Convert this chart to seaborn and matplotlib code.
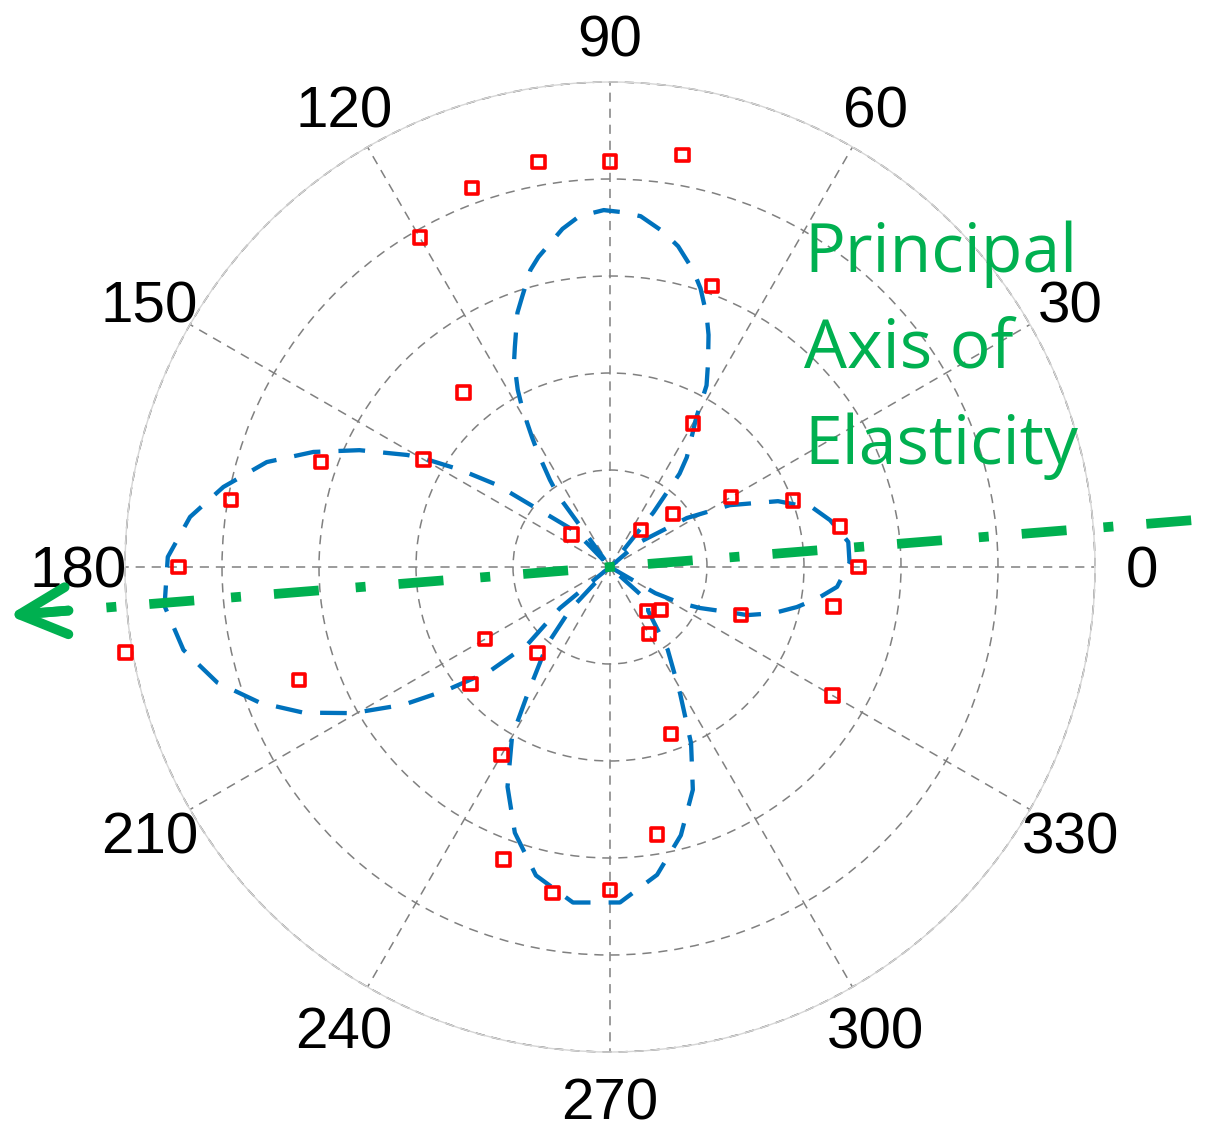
import numpy as np
import pandas as pd
import matplotlib
matplotlib.use("Agg")
import matplotlib.pyplot as plt
import seaborn as sns

# ---------------- data ----------------
# measured points (red squares): angle in degrees, radius in ring units
point_angle_deg = [0, 10, 20, 30, 40, 50, 60, 70, 80, 90, 100, 110,
                   120, 130, 140, 150, 160, 170, 180, 190, 200, 210, 220, 230,
                   240, 250, 260, 270, 280, 290, 300, 310, 320, 330, 340, 350]
point_radius = [2.56, 2.41, 2.01, 1.44, 0.85, 0.50, 1.71, 3.08, 4.31, 4.18, 4.24, 4.16,
                3.92, 2.35, 0.52, 2.22, 3.17, 3.97, 4.45, 5.07, 3.41, 1.49, 1.88, 1.16,
                2.24, 3.21, 3.41, 3.33, 2.80, 1.83, 0.80, 0.59, 0.69, 2.65, 1.44, 2.34]

# fitted curve (blue dashed), traced along the path
curve_angle_deg = [323, 330, 332.8, 335.5, 339, 340.7, 344.2, 347.9, 351.5, 355, 1, 6,
                   12, 16.2, 21.4, 27.3, 32.5, 40.6, 45,
                   51.5, 53.3, 55, 60, 62, 64.3, 67, 69, 72, 74.4, 78, 81, 85, 88, 91,
                   95, 98, 103, 105, 108, 110, 113.4, 115, 117.5, 119, 121, 122.3,
                   124.6, 126, 130,
                   134, 135, 140, 141.2, 144, 147, 149.8, 151.1, 155, 158.8, 163, 168.3,
                   173.2, 178.7, 185, 191, 196.4, 201.2, 205.4, 209.6, 213.7, 217,
                   220.9, 223.2, 219.4, 219, 222,
                   227, 231, 237, 240, 245, 250.3, 256.5, 263.7, 271.7, 278.7, 284.8,
                   290.4, 294.7, 299, 304.9, 311, 318, 323]
curve_radius = [0.0, 0.54, 0.81, 1.02, 1.29, 1.50, 1.75, 1.97, 2.17, 2.35, 2.47, 2.47,
                2.32, 2.18, 1.86, 1.39, 0.94, 0.38, 0.0,
                0.72, 1.20, 1.38, 1.78, 2.12, 2.33, 2.60, 2.78, 3.02, 3.18, 3.38, 3.50,
                3.63, 3.66, 3.68, 3.63, 3.52, 3.28, 3.17, 2.93, 2.79, 2.47, 2.34, 2.06,
                1.86, 1.56, 1.39, 1.09, 0.90, 0.0,
                0.34, 0.54, 0.83, 0.94, 1.44, 1.84, 2.23, 2.39, 2.85, 3.28, 3.70, 4.07,
                4.36, 4.56, 4.61, 4.48, 4.22, 3.87, 3.50, 3.05, 2.56, 2.11,
                1.64, 1.17, 0.67, 0.21, 0.0,
                0.61, 1.03, 1.56, 2.02, 2.50, 2.91, 3.27, 3.48, 3.46, 3.21, 2.86,
                2.45, 2.00, 1.49, 1.04, 0.60, 0.53, 0.0]

# principal axis of elasticity (green dash-dot arrow): left (arrow) end, right end
axis_angle_deg = [184.6, 4.6]
axis_radius = [6.22, 6.26]

tick_angles_deg = [0, 30, 60, 90, 120, 150, 180, 210, 240, 270, 300, 330]
tick_labels = ["0", "30", "60", "90", "120", "150", "180", "210", "240", "270", "300", "330"]
ring_radii = [1, 2, 3, 4, 5]
annotation_lines = ["Principal", "Axis of", "Elasticity"]

# ---------------- styling ----------------
sns.set_style("white")
plt.rcParams["font.family"] = ["Liberation Sans", "DejaVu Sans"]

BLUE = "#0072BD"
RED = "#FF0000"
GREEN = "#00B050"
GRID = "#808080"

W, H = 1209, 1131
fig = plt.figure(figsize=(W / 100, H / 100), dpi=100)
fig.patch.set_facecolor("white")
R_PX = 485
CX, CY = 610, 567
ax = fig.add_axes([(CX - R_PX) / W, (H - CY - R_PX) / H, 2 * R_PX / W, 2 * R_PX / H],
                  projection="polar")
ax.set_facecolor("white")

curve_df = pd.DataFrame({"theta": np.deg2rad(curve_angle_deg), "r": curve_radius})
points_df = pd.DataFrame({"theta": np.deg2rad(point_angle_deg), "r": point_radius})

sns.lineplot(data=curve_df, x="theta", y="r", ax=ax, sort=False, estimator=None,
             color=BLUE, zorder=3)
curve_line = ax.lines[-1]
curve_line.set_linewidth(3.1)
curve_line.set_linestyle((0, (6.2, 4.2)))
curve_line.set_dash_capstyle("butt")

sns.scatterplot(data=points_df, x="theta", y="r", ax=ax, marker="s", s=80,
                facecolors="none", edgecolors=RED, zorder=4)
pts = ax.collections[-1]
pts.set_linewidth(2.6)
pts.set_facecolor("none")
pts.set_edgecolor(RED)
pts.set_clip_on(False)

# outer dashed ring on top of the light solid frame
ring_theta = np.linspace(0, 2 * np.pi, 361)
ax.plot(ring_theta, np.full_like(ring_theta, ring_radii[-1]), color=GRID,
        linewidth=1.1, linestyle=(0, (6, 4.5)), zorder=2, clip_on=False)

# green principal axis line (dash-dot) through the centre, extending beyond the frame
ax.plot(np.deg2rad(axis_angle_deg), axis_radius, color=GREEN, linewidth=7.0,
        linestyle=(11.2, (4.63, 3.8, 1.03, 3.4)), solid_capstyle="butt",
        dash_capstyle="butt", clip_on=False, zorder=5)
# arrow head at the left end
ax.annotate("", xy=(np.deg2rad(axis_angle_deg[0]), axis_radius[0]),
            xytext=(np.deg2rad(axis_angle_deg[0]), axis_radius[0] - 0.62),
            arrowprops=dict(arrowstyle="->,head_length=3.4,head_width=1.7",
                            color=GREEN, lw=7.0, mutation_scale=10,
                            shrinkA=0, shrinkB=0, capstyle="round"),
            annotation_clip=False, zorder=5)

ax.set_ylim(0, 5)
ax.set_yticks(ring_radii)
ax.set_yticklabels([])
ax.set_xticks(np.deg2rad(tick_angles_deg))
ax.set_xticklabels([])
ax.set_xlabel("")
ax.set_ylabel("")
ax.grid(True, color=GRID, linestyle=(0, (6, 4.5)), linewidth=1.1)
ax.spines["polar"].set_color("#d6d6d6")
ax.spines["polar"].set_linewidth(1.0)
ax.tick_params(axis="both", length=0)

for a, lab in zip(tick_angles_deg, tick_labels):
    ax.text(np.deg2rad(a), 5.48, lab, ha="center", va="center_baseline",
            fontsize=42, color="black", clip_on=False)

baselines_px = [272, 368, 464]
for line, yb in zip(annotation_lines, baselines_px):
    fig.text(804 / W, 1 - yb / H, line, color=GREEN, fontsize=49,
             family=["Open Sans", "DejaVu Sans"], ha="left", va="baseline")

fig.savefig("out.png", dpi=100, facecolor="white")
